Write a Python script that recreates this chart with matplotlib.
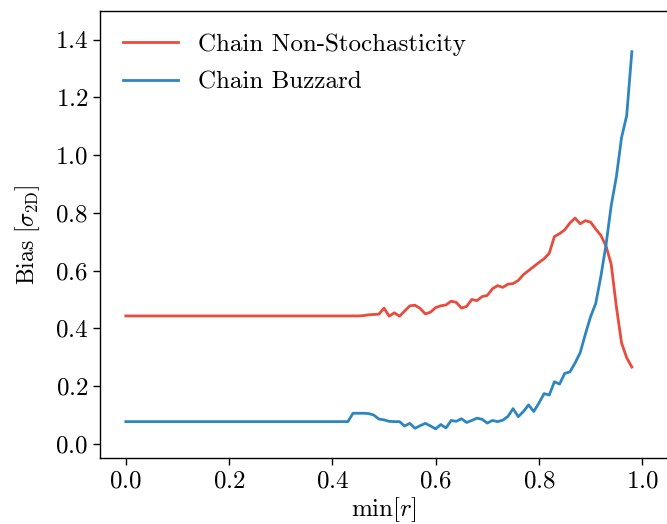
import numpy as np
import matplotlib
matplotlib.use("Agg")
import matplotlib.pyplot as plt

plt.rcParams['font.family'] = 'serif'
plt.rcParams['font.serif'] = ['cmr10', 'DejaVu Serif']
plt.rcParams['mathtext.fontset'] = 'cm'
plt.rcParams['axes.formatter.use_mathtext'] = True
plt.rcParams['font.size'] = 18

min_r = np.round(np.arange(0, 0.985, 0.01), 2)

bias_nonstoch = [0.443] * 46 + [
    0.444, 0.447, 0.448, 0.449, 0.470, 0.442, 0.454, 0.442, 0.460, 0.478,
    0.480, 0.469, 0.450, 0.456, 0.472, 0.478, 0.481, 0.494, 0.490, 0.470,
    0.476, 0.500, 0.496, 0.510, 0.514, 0.537, 0.548, 0.542, 0.553, 0.555,
    0.566, 0.586, 0.600, 0.614, 0.628, 0.641, 0.660, 0.718, 0.728, 0.741,
    0.765, 0.782, 0.762, 0.773, 0.768, 0.744, 0.722, 0.685, 0.622, 0.475,
    0.350, 0.298, 0.266]

bias_buzzard = [0.077] * 44 + [
    0.106, 0.106, 0.106, 0.105, 0.100, 0.086, 0.083, 0.078, 0.077, 0.077,
    0.062, 0.071, 0.054, 0.063, 0.071, 0.062, 0.052, 0.067, 0.055, 0.081,
    0.078, 0.087, 0.074, 0.081, 0.089, 0.085, 0.072, 0.081, 0.077, 0.082,
    0.095, 0.122, 0.094, 0.112, 0.135, 0.112, 0.141, 0.174, 0.169, 0.215,
    0.207, 0.244, 0.249, 0.280, 0.316, 0.380, 0.440, 0.486, 0.580, 0.690,
    0.825, 0.925, 1.060, 1.137, 1.358]

labels = ['Chain Non-Stochasticity', 'Chain Buzzard']
colors = ['#E74C3C', '#2E86C1']

fig = plt.figure(figsize=(6.67, 5.24), dpi=100)
ax = fig.add_axes([100 / 667, 65.7 / 524, 568 / 667, 447.6 / 524])

ax.plot(min_r, bias_nonstoch, color=colors[0], lw=2.0, label=labels[0])
ax.plot(min_r, bias_buzzard, color=colors[1], lw=2.0, label=labels[1])

ax.set_xlim(-0.05, 1.05)
ax.set_ylim(-0.05, 1.5)
ax.set_xticks([0.0, 0.2, 0.4, 0.6, 0.8, 1.0])
ax.set_yticks([0.0, 0.2, 0.4, 0.6, 0.8, 1.0, 1.2, 1.4])
ax.tick_params(length=5, width=1.0, labelsize=18)
for s in ax.spines.values():
    s.set_linewidth(1.0)

ax.set_xlabel(r'$\min[r]$', labelpad=2, fontsize=18)
ax.set_ylabel(r'Bias $[\sigma_{\rm 2D}]$', labelpad=9, fontsize=17)

ax.legend(loc='upper left', frameon=False, handlelength=2.2,
          handletextpad=0.8, labelspacing=0.62, fontsize=18)

fig.savefig('out.png', dpi=100)
